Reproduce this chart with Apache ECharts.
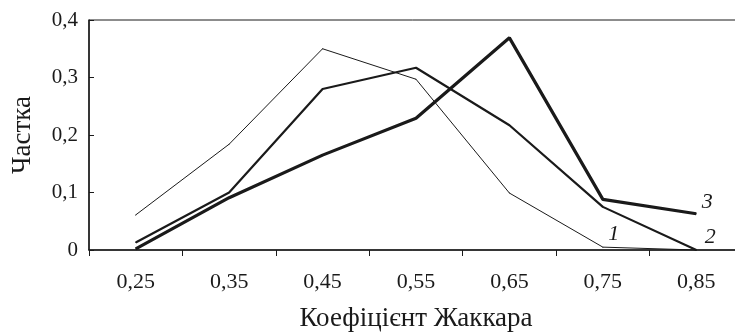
<!DOCTYPE html>
<html><head><meta charset="utf-8">
<script src="https://cdn.jsdelivr.net/npm/echarts@6/dist/echarts.min.js"></script>
<style>html,body{margin:0;padding:0;background:#fff}#c{width:735px;height:334px}</style>
</head><body><div id="c"></div>
<script>
const categories = ['0,25','0,35','0,45','0,55','0,65','0,75','0,85'];
const series1 = [0.061, 0.184, 0.350, 0.297, 0.099, 0.005, 0];
const series2 = [0.013, 0.100, 0.280, 0.317, 0.217, 0.075, 0];
const series3 = [0.002, 0.091, 0.165, 0.229, 0.369, 0.088, 0.063];
const seriesNames = ['1','2','3'];
const yTicks = [0, 0.1, 0.2, 0.3, 0.4];

const FONT = 'Liberation Serif';
const col = '#1a1a1a';
function lbl(name, idx, arr, opts) {
  return arr.map((v, i) => i === idx ? {value: v, label: Object.assign({show: true, formatter: name, color: col, fontFamily: FONT, fontStyle: 'italic', fontSize: 22}, opts)} : v);
}
const chart = echarts.init(document.getElementById('c'), null, {renderer: 'canvas'});
chart.setOption({
  animation: false,
  backgroundColor: '#fff',
  grid: {left: 89, top: 20, bottom: 84, width: 654, outerBoundsMode: 'none', containLabel: false, show: true, borderColor: col, borderWidth: 1, backgroundColor: 'transparent'},
  xAxis: {
    type: 'category', data: categories, boundaryGap: true,
    name: 'Коефіцієнт Жаккара', nameLocation: 'middle', nameGap: 55,
    nameTextStyle: {fontFamily: FONT, fontSize: 27, color: col},
    axisLine: {lineStyle: {color: col, width: 1.5}},
    axisTick: {show: true, length: 6, lineStyle: {color: col}},
    axisLabel: {fontFamily: FONT, fontSize: 22, color: col, margin: 21}
  },
  yAxis: {
    type: 'value', min: yTicks[0], max: yTicks[yTicks.length-1], interval: 0.1,
    name: 'Частка', nameLocation: 'middle', nameGap: 53,
    nameTextStyle: {fontFamily: FONT, fontSize: 27, color: col},
    axisLine: {show: true, lineStyle: {color: col, width: 1.5}},
    axisTick: {show: true, inside: true, length: 5, lineStyle: {color: col}},
    splitLine: {show: false},
    axisLabel: {fontFamily: FONT, fontSize: 21, color: col, margin: 11,
      formatter: v => v === 0 ? '0' : v.toFixed(1).replace('.', ',')}
  },
  series: [
    {name: seriesNames[0], type: 'line', data: lbl('1', 5, series1, {position: 'right', offset: [0, -13]}), symbol: 'circle', symbolSize: 1, showSymbol: true, itemStyle: {color: col}, lineStyle: {color: col, width: 1}, z: 3},
    {name: seriesNames[1], type: 'line', data: lbl('2', 6, series2, {position: 'right', offset: [3, -13]}), symbol: 'circle', symbolSize: 1, showSymbol: true, itemStyle: {color: col}, lineStyle: {color: col, width: 2.2}, z: 4},
    {name: seriesNames[2], type: 'line', data: lbl('3', 6, series3, {position: 'right', offset: [0, -12]}), symbol: 'circle', symbolSize: 1, showSymbol: true, itemStyle: {color: col}, lineStyle: {color: col, width: 3.2}, z: 5}
  ]
});
</script></body></html>
